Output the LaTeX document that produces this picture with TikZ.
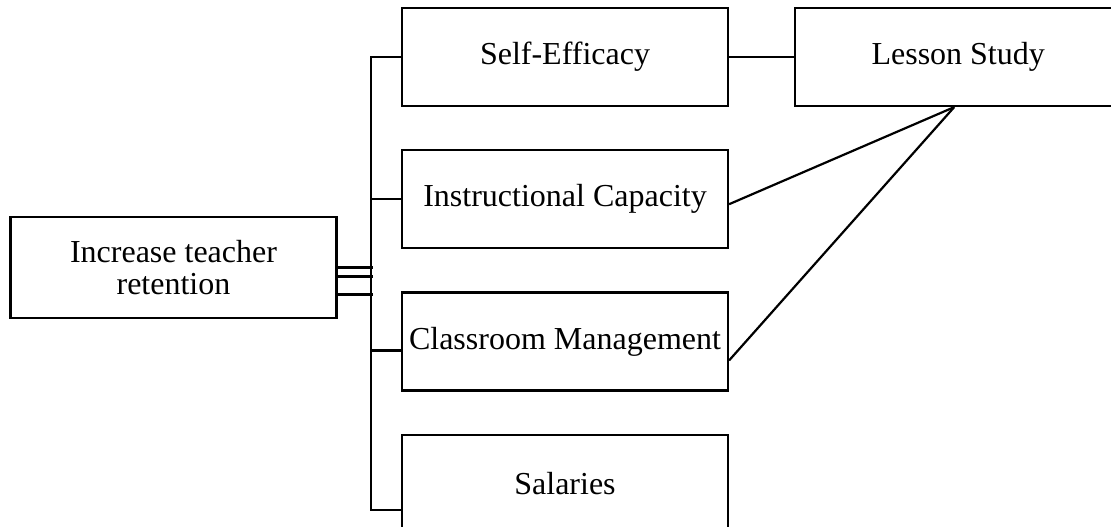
\documentclass[tikz,border=0pt]{standalone}
\usepackage{fontspec}
\setmainfont{Liberation Serif}
\usetikzlibrary{positioning}

\begin{document}
\begin{tikzpicture}[node distance=21pt and 32.5pt]
\tikzstyle{block} = [rectangle, draw, line width=1.1pt, fill=white,
    minimum width=163pt, minimum height=49pt, inner sep=0pt,
    align=center, font=\fontsize{16}{16}\selectfont]
\tikzstyle{line} = [draw, line width=1.1pt]

\path[use as bounding box, clip] (0,0) rectangle (555.5pt,-263pt);

\node (se) [block] at (282.5pt,-28.5pt) {Self-Efficacy};
\node (ic) [block, below=of se] {Instructional Capacity};
\node (cm) [block, below=of ic] {Classroom Management};
\node (sal) [block, below=of cm] {Salaries};
\node (ls) [block, right=of se] {Lesson Study};
\node (goal) [block, minimum height=50.5pt] at (86.75pt,-133.75pt)
    {Increase teacher\\retention};

% trunk with the branches
\coordinate (cmin) at ([yshift=-4.5pt]cm.west);
\coordinate (salin) at ([yshift=-13pt]sal.west);
\path[line] (se.west) -- ++(-15pt,0) |- (salin);
\path[line] (ic.west) -- ++(-15pt,0);
\path[line] (cmin) -- ++(-15pt,0);

\path[line] (goal.east) -- ++(17.5pt,0);
\path[line] ([yshift=-4.5pt]goal.east) -- ++(17.5pt,0);
\path[line] ([yshift=-13.5pt]goal.east) -- ++(17.5pt,0);

\path[line] (se) -- (ls);

\coordinate (lsfoot) at ([xshift=-2pt]ls.south);
\path[line] (lsfoot) -- ([yshift=-2.5pt]ic.east);
\path[line] (lsfoot) -- ([yshift=-9.5pt]cm.east);
\end{tikzpicture}
\end{document}
